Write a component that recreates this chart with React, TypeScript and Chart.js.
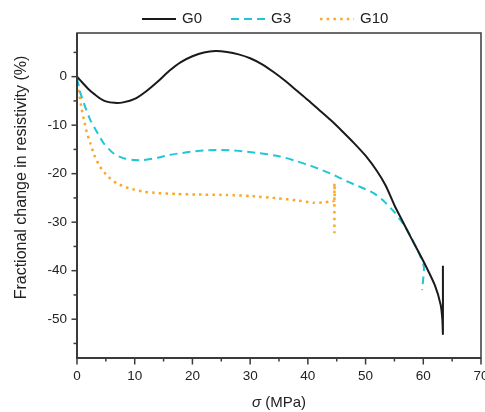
import { useEffect, useRef } from 'react';
import { Chart, registerables } from 'chart.js';

Chart.register(...registerables);

// ---- data ----
const seriesNames = ['G0', 'G3', 'G10'];

const g0X = [0, 1, 2, 3, 4, 5, 6.5, 8, 10, 12, 14, 16, 18, 20, 22, 24, 26, 28, 30, 32, 34, 36, 38, 40, 42, 44, 46, 48, 50, 52, 53.5, 55, 56.5, 58, 60, 62, 63, 63.3, 63.4, 63.4];
const g0Y = [0, -1.3, -2.6, -3.6, -4.5, -5.1, -5.4, -5.3, -4.6, -3.0, -1.0, 1.2, 3.0, 4.2, 5.0, 5.3, 5.1, 4.6, 3.8, 2.6, 1.0, -0.8, -2.8, -4.8, -6.9, -9.0, -11.3, -13.7, -16.3, -19.5, -22.5, -26.5, -30, -33.5, -38, -43, -47, -50, -53, -39];

const g3X = [0, 0.6, 1.5, 2.3, 3.5, 4.6, 6.3, 8, 10, 11.5, 14, 16.2, 19, 22, 25, 28, 31, 35, 38, 41, 44, 46.8, 49, 51.4, 53, 54.9, 56, 57.2, 58.5, 59.5, 60.1, 60, 59.8];
const g3Y = [-0.3, -3.4, -6.5, -8.9, -11.5, -13.7, -15.8, -16.8, -17.2, -17.2, -16.7, -16.1, -15.6, -15.2, -15.1, -15.3, -15.7, -16.4, -17.4, -18.6, -20.0, -21.6, -22.7, -24.0, -25.5, -27.8, -29.5, -31.6, -34.5, -37.1, -39.2, -41.5, -44.0];

const g10X = [0, 0.3, 0.7, 1.2, 1.7, 2.3, 3, 4, 5.3, 6.9, 9, 11.5, 14, 17.3, 21, 26, 30, 34.9, 38, 41, 43, 44, 44.6, 44.6, 44.6];
const g10Y = [0, -2.7, -6, -8.9, -11.5, -13.7, -16.2, -18.6, -20.5, -22.0, -23.0, -23.7, -24.0, -24.2, -24.3, -24.4, -24.6, -25.1, -25.5, -26.0, -25.9, -25.7, -25.6, -22, -32.3];

const xMin = 0;
const xMax = 70;
const yMin = -58;
const yMax = 9;
const tickStep = 5;
const labelStep = 10;

const yTitle = 'Fractional change in resistivity (%)';
const xTitleSymbol = 'σ';
const xTitleUnit = ' (MPa)';

const FONT = '"Liberation Sans", Arial, sans-serif';
const AXIS_COLOR = '#3a3a3a';
const TEXT_COLOR = '#222222';

const toPoints = (xs: number[], ys: number[]) => xs.map((x, i) => ({ x, y: ys[i] }));

const decorPlugin = {
  id: 'decor',
  afterDatasetsDraw(chart: any) {
    const { ctx, chartArea: a, scales } = chart;
    const xs = scales.x;
    const ys = scales.y;
    ctx.save();
    ctx.strokeStyle = AXIS_COLOR;
    // frame
    ctx.lineWidth = 1.5;
    ctx.strokeRect(a.left, a.top, a.right - a.left, a.bottom - a.top);
    ctx.lineWidth = 2;
    ctx.beginPath();
    ctx.moveTo(a.left, a.top);
    ctx.lineTo(a.left, a.bottom);
    ctx.lineTo(a.right, a.bottom);
    ctx.stroke();
    // ticks
    ctx.lineWidth = 1.5;
    xs.ticks.forEach((t: any) => {
      if (t.value % tickStep !== 0) return;
      const px = xs.getPixelForValue(t.value);
      const len = t.value % labelStep === 0 ? 6.5 : 3.5;
      ctx.beginPath();
      ctx.moveTo(px, a.bottom);
      ctx.lineTo(px, a.bottom + len);
      ctx.stroke();
    });
    ys.ticks.forEach((t: any) => {
      if (t.value % tickStep !== 0) return;
      const py = ys.getPixelForValue(t.value);
      const len = t.value % labelStep === 0 ? 5.5 : 3.5;
      ctx.beginPath();
      ctx.moveTo(a.left, py);
      ctx.lineTo(a.left - len, py);
      ctx.stroke();
    });
    ctx.restore();
  },
  afterDraw(chart: any) {
    const { ctx, chartArea: a } = chart;
    ctx.save();
    ctx.fillStyle = TEXT_COLOR;
    // y title
    ctx.font = `16px ${FONT}`;
    ctx.textAlign = 'center';
    ctx.textBaseline = 'middle';
    ctx.save();
    ctx.translate(22, (a.top + a.bottom) / 2 - 18);
    ctx.rotate(-Math.PI / 2);
    ctx.fillText(yTitle, 0, 0);
    ctx.restore();
    // x title
    ctx.textAlign = 'left';
    ctx.font = `italic 15px ${FONT}`;
    const w1 = ctx.measureText(xTitleSymbol).width;
    ctx.font = `15px ${FONT}`;
    const w2 = ctx.measureText(xTitleUnit).width;
    const cx = (a.left + a.right) / 2;
    const startX = cx - (w1 + w2) / 2;
    const ty = 403;
    ctx.font = `italic 15px ${FONT}`;
    ctx.fillText(xTitleSymbol, startX, ty);
    ctx.font = `15px ${FONT}`;
    ctx.fillText(xTitleUnit, startX + w1, ty);
    // legend
    ctx.font = `15px ${FONT}`;
    let lx = 142;
    const ly = 19;
    chart.data.datasets.forEach((ds: any) => {
      ctx.save();
      ctx.strokeStyle = ds.borderColor;
      ctx.lineWidth = ds.borderWidth;
      ctx.setLineDash(ds.borderDash || []);
      ctx.beginPath();
      ctx.moveTo(lx, ly);
      ctx.lineTo(lx + 34, ly);
      ctx.stroke();
      ctx.restore();
      ctx.fillStyle = TEXT_COLOR;
      ctx.textBaseline = 'middle';
      ctx.fillText(ds.label, lx + 40, ly);
      lx += 40 + ctx.measureText(ds.label).width + 29;
    });
    ctx.restore();
  },
};

export default function App() {
  const ref = useRef<HTMLCanvasElement | null>(null);
  useEffect(() => {
    if (!ref.current) return;
    const chart = new Chart(ref.current, {
      type: 'line',
      data: {
        datasets: [
          {
            label: seriesNames[0],
            data: toPoints(g0X, g0Y),
            borderColor: '#1a1a1a',
            borderWidth: 2,
            borderDash: [],
            pointRadius: 0,
            tension: 0.25,
            fill: false,
          },
          {
            label: seriesNames[1],
            data: toPoints(g3X, g3Y),
            borderColor: '#1fc6d6',
            borderWidth: 2,
            borderDash: [8, 5],
            pointRadius: 0,
            tension: 0.25,
            fill: false,
          },
          {
            label: seriesNames[2],
            data: toPoints(g10X, g10Y),
            borderColor: '#fba829',
            borderWidth: 2.5,
            borderDash: [2.5, 4.2],
            pointRadius: 0,
            tension: 0.2,
            fill: false,
          },
        ],
      },
      options: {
        responsive: false,
        animation: false,
        devicePixelRatio: 1,
        layout: { padding: { top: 33, right: 4, left: 0, bottom: 0 } },
        plugins: { legend: { display: false }, tooltip: { enabled: false } },
        scales: {
          x: {
            type: 'linear',
            min: xMin,
            max: xMax,
            grid: { display: false, drawTicks: false },
            border: { display: false },
            ticks: {
              stepSize: tickStep,
              autoSkip: false,
              maxRotation: 0,
              padding: 10,
              color: TEXT_COLOR,
              font: { family: FONT, size: 13.5 },
              callback: (v: any) => (Number(v) % labelStep === 0 ? String(v) : ''),
            },
            afterFit: (s: any) => {
              s.height = 54;
              s.paddingLeft = 0;
              s.paddingRight = 0;
            },
          },
          y: {
            type: 'linear',
            min: yMin,
            max: yMax,
            grid: { display: false, drawTicks: false },
            border: { display: false },
            ticks: {
              stepSize: tickStep,
              includeBounds: false,
              autoSkip: false,
              padding: 10,
              color: TEXT_COLOR,
              font: { family: FONT, size: 13.5 },
              callback: (v: any) => (Number(v) % labelStep === 0 ? String(v) : ''),
            },
            afterFit: (s: any) => {
              s.width = 77;
              s.paddingTop = 0;
              s.paddingBottom = 0;
            },
          },
        },
      },
      plugins: [decorPlugin],
    } as any);
    return () => chart.destroy();
  }, []);
  return (
    <div style={{ position: 'absolute', left: 0, top: 0, width: 485, height: 412, background: '#fff' }}>
      <canvas ref={ref} width={485} height={412} />
    </div>
  );
}
